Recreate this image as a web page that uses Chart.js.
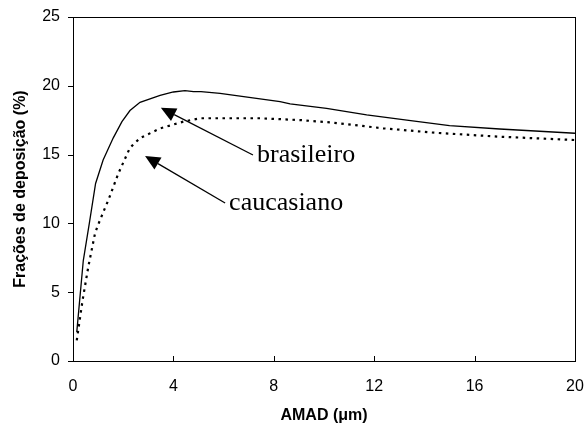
<!DOCTYPE html>
<html>
<head>
<meta charset="utf-8">
<script src="https://cdn.jsdelivr.net/npm/chart.js@4"></script>
<style>
  html, body { margin: 0; padding: 0; background: #fff; }
  #wrap { width: 586px; height: 432px; }
</style>
</head>
<body>
<div id="wrap"><canvas id="chart" width="586" height="432"></canvas></div>
<script>
// AMAD (um) and deposition fractions (%)
const brasileiroX = [0.15, 0.41, 0.65, 0.9, 1.2, 1.6, 1.95, 2.27, 2.67, 3.47, 4.0, 4.46, 4.8, 5.1, 5.86, 6.8, 8.25, 8.65, 10.1, 11.7, 13.3, 15.0, 17.0, 20];
const brasileiroY = [2.1, 7.3, 10.0, 12.9, 14.6, 16.2, 17.4, 18.2, 18.8, 19.3, 19.55, 19.65, 19.57, 19.57, 19.45, 19.21, 18.85, 18.68, 18.36, 17.88, 17.51, 17.1, 16.86, 16.55];

const caucasianoX = [0.15, 0.38, 0.61, 0.88, 1.0, 1.27, 1.41, 1.8, 2.27, 2.67, 3.47, 4.4, 5.06, 7.45, 9.04, 10.37, 12.36, 14.4, 17.0, 20];
const caucasianoY = [1.5, 4.4, 6.85, 9.3, 9.9, 11.1, 11.7, 13.6, 15.5, 16.2, 16.9, 17.4, 17.64, 17.64, 17.51, 17.32, 16.91, 16.59, 16.3, 16.06];

const xTicks = [0, 4, 8, 12, 16, 20];
const yTicks = [0, 5, 10, 15, 20, 25];

// arrow labels: text, tip (x, y) and tail (x, y) in data units
const labels = [
  { text: 'brasileiro', tip: [3.5, 18.4], tail: [7.17, 14.97] },
  { text: 'caucasiano', tip: [2.87, 14.9], tail: [6.06, 11.48] }
];

const toPoints = (xs, ys) => xs.map((x, i) => ({ x: x, y: ys[i] }));

const framePlugin = {
  id: 'frame',
  afterDraw(chart) {
    const ctx = chart.ctx;
    const a = chart.chartArea;
    const xs = chart.scales.x, ys = chart.scales.y;
    ctx.save();
    ctx.strokeStyle = '#000';
    ctx.lineWidth = 1;
    ctx.strokeRect(Math.round(a.left) + 0.5, Math.round(a.top) + 0.5,
                   Math.round(a.right - a.left), Math.round(a.bottom - a.top));
    ctx.beginPath();
    xTicks.forEach(v => {
      const px = Math.round(xs.getPixelForValue(v)) + 0.5;
      ctx.moveTo(px, a.bottom);
      ctx.lineTo(px, a.bottom - 5);
    });
    yTicks.forEach(v => {
      const py = Math.round(ys.getPixelForValue(v)) + 0.5;
      ctx.moveTo(a.left, py);
      ctx.lineTo(a.left - 5, py);
    });
    ctx.stroke();

    // arrows + text
    ctx.fillStyle = '#000';
    ctx.lineWidth = 1.3;
    ctx.font = '26px "Liberation Serif", "Times New Roman", serif';
    ctx.textBaseline = 'middle';
    ctx.textAlign = 'left';
    labels.forEach(l => {
      const tx = xs.getPixelForValue(l.tip[0]), ty = ys.getPixelForValue(l.tip[1]);
      const sx = xs.getPixelForValue(l.tail[0]), sy = ys.getPixelForValue(l.tail[1]);
      const ang = Math.atan2(ty - sy, tx - sx);
      const head = 15, half = 7;
      const bx = tx - head * Math.cos(ang), by = ty - head * Math.sin(ang);
      ctx.beginPath();
      ctx.moveTo(sx, sy);
      ctx.lineTo(bx, by);
      ctx.stroke();
      ctx.beginPath();
      ctx.moveTo(tx, ty);
      ctx.lineTo(bx + half * Math.sin(ang), by - half * Math.cos(ang));
      ctx.lineTo(bx - half * Math.sin(ang), by + half * Math.cos(ang));
      ctx.closePath();
      ctx.fill();
      ctx.fillText(l.text, sx + 4, sy);
    });
    ctx.restore();
  }
};

new Chart(document.getElementById('chart'), {
  type: 'line',
  data: {
    datasets: [
      {
        label: 'brasileiro',
        data: toPoints(brasileiroX, brasileiroY),
        borderColor: '#000',
        borderWidth: 1.3,
        pointRadius: 0,
        tension: 0,
        fill: false
      },
      {
        label: 'caucasiano',
        data: toPoints(caucasianoX, caucasianoY),
        borderColor: '#000',
        borderWidth: 2.2,
        borderDash: [2.5, 4.5],
        pointRadius: 0,
        tension: 0,
        fill: false
      }
    ]
  },
  options: {
    responsive: false,
    animation: false,
    layout: { padding: { left: 0, right: 11, top: 17, bottom: 0 } },
    plugins: {
      legend: { display: false },
      tooltip: { enabled: false }
    },
    scales: {
      x: {
        type: 'linear',
        min: 0, max: 20,
        afterFit(s) { s.height = 71; s.paddingLeft = 0; s.paddingRight = 0; },
        afterBuildTicks(s) { s.ticks = xTicks.map(v => ({ value: v })); },
        grid: { display: false, drawTicks: false },
        border: { display: false },
        ticks: {
          color: '#000',
          padding: 16,
          maxRotation: 0,
          font: { family: '"Liberation Sans", Arial, sans-serif', size: 16 }
        },
        title: {
          display: true,
          text: 'AMAD (μm)',
          color: '#000',
          padding: { top: 0, bottom: 7 },
          font: { family: '"Liberation Sans", Arial, sans-serif', size: 16, weight: 'bold' }
        }
      },
      y: {
        min: 0, max: 25,
        afterFit(s) { s.width = 73; s.paddingTop = 0; s.paddingBottom = 0; },
        afterBuildTicks(s) { s.ticks = yTicks.map(v => ({ value: v })); },
        grid: { display: false, drawTicks: false },
        border: { display: false },
        ticks: {
          color: '#000',
          padding: 13,
          font: { family: '"Liberation Sans", Arial, sans-serif', size: 16 }
        },
        title: {
          display: true,
          text: 'Frações de deposição (%)',
          color: '#000',
          padding: { top: 11, bottom: 0 },
          font: { family: '"Liberation Sans", Arial, sans-serif', size: 16, weight: 'bold' }
        }
      }
    }
  },
  plugins: [framePlugin]
});
</script>
</body>
</html>
